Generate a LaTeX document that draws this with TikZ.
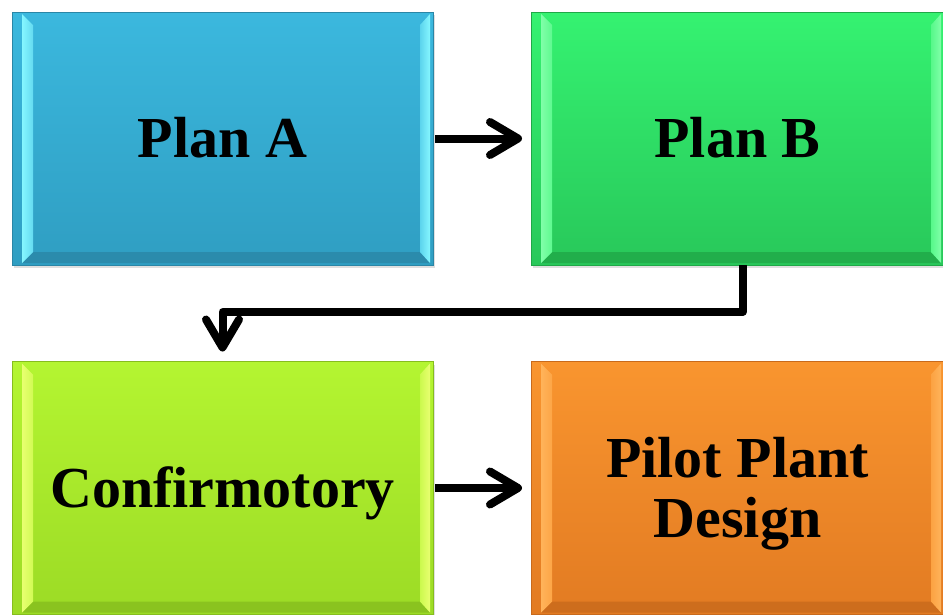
\documentclass[tikz,border=0pt]{standalone}
\usepackage{fontspec}
\setmainfont{Liberation Serif}
\usetikzlibrary{arrows.meta,shadows}

\definecolor{paTop}{HTML}{3BB8DE}\definecolor{paBot}{HTML}{2F9EC2}
\definecolor{paLight}{HTML}{85F6FF}\definecolor{paDark}{HTML}{2A86A6}
\definecolor{pbTop}{HTML}{35F271}\definecolor{pbBot}{HTML}{28C85A}
\definecolor{pbLight}{HTML}{80FFA8}\definecolor{pbDark}{HTML}{1FA847}
\definecolor{cfTop}{HTML}{B4F531}\definecolor{cfBot}{HTML}{9CDB25}
\definecolor{cfLight}{HTML}{E8FF70}\definecolor{cfDark}{HTML}{86BD1E}
\definecolor{ppTop}{HTML}{F9952F}\definecolor{ppBot}{HTML}{E27B22}
\definecolor{ppLight}{HTML}{FFB35A}\definecolor{ppDark}{HTML}{C86A1C}

% bevelled rim of a stage box, #1 is the colour prefix
\newcommand\bevelrim[1]{%
  \path (path picture bounding box.south west) coordinate (bsw)
        (path picture bounding box.north east) coordinate (bne)
        (bsw |- bne) coordinate (bnw)
        (bne |- bsw) coordinate (bse);
  \fill[#1Dark!80!#1Bot]
    ([shift={(10pt,2pt)}]bsw) -- ([shift={(-3pt,2pt)}]bse)
    -- ([shift={(-13pt,13pt)}]bse) -- ([shift={(21pt,13pt)}]bsw) -- cycle;
  \shade[left color=#1Light, right color=#1Light!55!#1Top]
    ([shift={(10pt,2pt)}]bsw) -- ([shift={(21pt,13pt)}]bsw)
    -- ([shift={(21pt,-13pt)}]bnw) -- ([shift={(10pt,-2pt)}]bnw) -- cycle;
  \shade[right color=#1Light, left color=#1Light!45!#1Top]
    ([shift={(-3pt,2pt)}]bse) -- ([shift={(-13pt,13pt)}]bse)
    -- ([shift={(-13pt,-13pt)}]bne) -- ([shift={(-3pt,-2pt)}]bne) -- cycle;
}

\begin{document}
\begin{tikzpicture}[
  x=1pt, y=1pt,
  stage/.style={draw=#1Dark, line width=0.8pt, top color=#1Top, bottom color=#1Bot,
    inner sep=0pt, outer sep=0pt, minimum height=253pt, align=center,
    text depth=2pt, font=\bfseries\fontsize{58}{60}\selectfont,
    drop shadow={shadow xshift=2pt, shadow yshift=-3pt, opacity=0.25},
    path picture={\bevelrim{#1}}},
  arr/.style={line width=8pt, line join=round, black,
    -{Straight Barb[length=28pt, width=33pt, round]}},
]
\useasboundingbox (0,0) rectangle (943,-614);

\node (plana) [stage=pa, minimum width=421pt] at (222.5,-138.5) {Plan A};
\node (planb) [stage=pb, minimum width=413pt] at (737.5,-138.5) {Plan B};
\node (conf) [stage=cf, minimum width=421pt] at (222.5,-488) {Confirmotory};
\node (pilot) [stage=pp, minimum width=413pt] at (737.5,-488) {Pilot Plant\\Design};

\draw[arr] ([xshift=2pt]plana.east) -- ([xshift=-9pt]planb.west);
\draw[arr] ([xshift=5pt]planb.south) -- ++(0,-47) -| ([yshift=10pt]conf.north);
\draw[arr] ([xshift=2pt]conf.east) -- ([xshift=-9pt]pilot.west);

\end{tikzpicture}
\end{document}
